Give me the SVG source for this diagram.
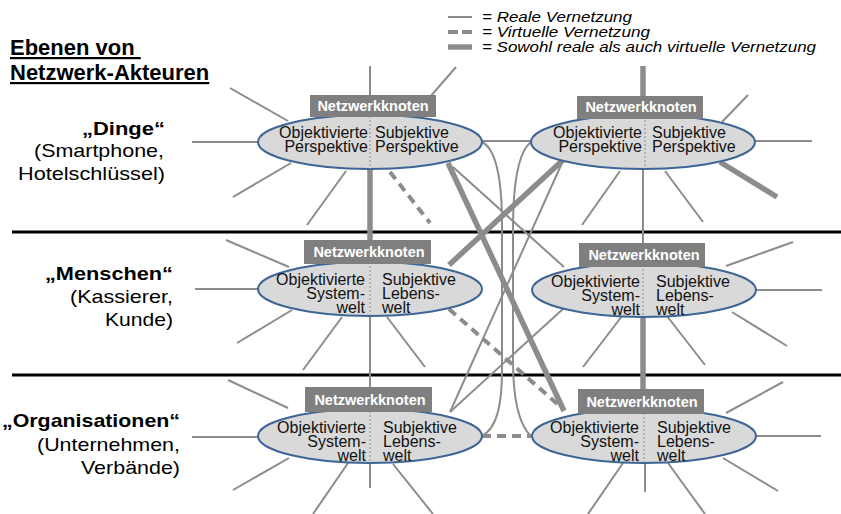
<svg xmlns="http://www.w3.org/2000/svg" width="841" height="514" viewBox="0 0 841 514">
  <style>
    .bg { fill: #ffffff; }
    .sep { stroke: #000000; stroke-width: 3; }
    .real { stroke: #8c8c8c; stroke-width: 2; fill: none; }
    .both { stroke: #8c8c8c; stroke-width: 5.5; fill: none; }
    .virt { stroke: #8c8c8c; stroke-width: 4; fill: none; stroke-dasharray: 9 6; }
    .ell { fill: #d9d9d9; stroke: #3d6596; stroke-width: 2; }
    .div { stroke: #8c8c8c; stroke-width: 1; stroke-dasharray: 2 2; }
    .box { fill: #7f7f7f; }
    .boxt { font-family: "Liberation Sans", Arial, sans-serif; font-weight: bold; font-size: 14.5px; fill: #ffffff; text-anchor: middle; }
    .t { font-family: "Liberation Sans", Arial, sans-serif; font-size: 16px; fill: #111111; }
    .l { text-anchor: end; }
    .lab { font-family: "Liberation Sans", Arial, sans-serif; font-size: 19px; fill: #000000; text-anchor: end; }
    .labb { font-weight: bold; }
    .leg { font-family: "Liberation Sans", Arial, sans-serif; font-size: 15.5px; font-style: italic; fill: #000000; }
    .title { font-family: "Liberation Sans", Arial, sans-serif; font-size: 22px; font-weight: bold; fill: #000000; text-decoration: underline; }
  </style>

  <rect class="bg" x="0" y="0" width="841" height="514"/>

  <!-- heading -->
  <g id="title">
    <text class="title" x="10" y="55" xml:space="preserve">Ebenen von </text>
    <text class="title" x="10" y="80">Netzwerk-Akteuren</text>
  </g>

  <!-- legend -->
  <g id="legend">
    <line class="real" x1="448" y1="17" x2="472" y2="17"/>
    <line class="virt" x1="448" y1="32" x2="472" y2="32" style="stroke-dasharray: 10 4"/>
    <line class="both" x1="448" y1="47" x2="472" y2="47"/>
    <text class="leg" x="482" y="22" textLength="150" lengthAdjust="spacingAndGlyphs">= Reale Vernetzung</text>
    <text class="leg" x="482" y="37" textLength="168" lengthAdjust="spacingAndGlyphs">= Virtuelle Vernetzung</text>
    <text class="leg" x="482" y="52" textLength="334" lengthAdjust="spacingAndGlyphs">= Sowohl reale als auch virtuelle Vernetzung</text>
  </g>

  <!-- level labels -->
  <g id="levels">
    <text class="lab labb" x="165" y="135" textLength="83" lengthAdjust="spacingAndGlyphs">„Dinge“</text>
    <text class="lab" x="164" y="157" textLength="130" lengthAdjust="spacingAndGlyphs">(Smartphone,</text>
    <text class="lab" x="165" y="180" textLength="147" lengthAdjust="spacingAndGlyphs">Hotelschlüssel)</text>
    <text class="lab labb" x="173" y="280" textLength="128" lengthAdjust="spacingAndGlyphs">„Menschen“</text>
    <text class="lab" x="173" y="303" textLength="103" lengthAdjust="spacingAndGlyphs">(Kassierer,</text>
    <text class="lab" x="173" y="326" textLength="68" lengthAdjust="spacingAndGlyphs">Kunde)</text>
    <text class="lab labb" x="180" y="427" textLength="178" lengthAdjust="spacingAndGlyphs">„Organisationen“</text>
    <text class="lab" x="180" y="451" textLength="143" lengthAdjust="spacingAndGlyphs">(Unternehmen,</text>
    <text class="lab" x="180" y="474" textLength="99" lengthAdjust="spacingAndGlyphs">Verbände)</text>
  </g>

  <!-- level separators -->
  <g id="separators">
    <line class="sep" x1="12" y1="232" x2="841" y2="232"/>
    <line class="sep" x1="12" y1="375" x2="841" y2="375"/>
  </g>

  <!-- connectors and open spokes -->
  <g id="connectors">
    <!-- node A spokes -->
    <line class="real" x1="370" y1="66" x2="370" y2="96"/>
    <line class="real" x1="456" y1="67" x2="430" y2="97"/>
    <line class="real" x1="230" y1="88" x2="288" y2="121"/>
    <line class="real" x1="192" y1="142" x2="258" y2="142"/>
    <line class="real" x1="233" y1="197" x2="291" y2="163"/>
    <line class="real" x1="307" y1="225" x2="346" y2="171"/>
    <line class="virt" x1="390" y1="172" x2="430" y2="223"/>
    <!-- node B spokes -->
    <line class="both" x1="643" y1="66" x2="643" y2="97"/>
    <line class="real" x1="748" y1="95" x2="722" y2="122"/>
    <line class="real" x1="755" y1="141" x2="812" y2="141"/>
    <line class="both" x1="720" y1="162" x2="777" y2="197"/>
    <line class="real" x1="665" y1="171" x2="703" y2="222"/>
    <line class="real" x1="582" y1="225" x2="620" y2="171"/>
    <!-- node C spokes -->
    <line class="real" x1="226" y1="240" x2="289" y2="267"/>
    <line class="real" x1="195" y1="289" x2="258" y2="289"/>
    <line class="real" x1="237" y1="343" x2="292" y2="310"/>
    <line class="real" x1="303" y1="370" x2="342" y2="317"/>
    <line class="real" x1="387" y1="317" x2="425" y2="367"/>
    <!-- node D spokes -->
    <line class="real" x1="726" y1="266" x2="793" y2="242"/>
    <line class="real" x1="756" y1="290" x2="822" y2="290"/>
    <line class="real" x1="732" y1="312" x2="787" y2="346"/>
    <line class="real" x1="667" y1="316" x2="705" y2="365"/>
    <line class="real" x1="583" y1="367" x2="622" y2="316"/>
    <!-- node E spokes -->
    <line class="real" x1="228" y1="380" x2="288" y2="408"/>
    <line class="real" x1="192" y1="437" x2="258" y2="437"/>
    <line class="real" x1="233" y1="490" x2="289" y2="458"/>
    <line class="real" x1="313" y1="514" x2="348" y2="463"/>
    <line class="real" x1="370" y1="463" x2="370" y2="488"/>
    <line class="real" x1="393" y1="464" x2="433" y2="514"/>
    <!-- node F spokes -->
    <line class="real" x1="726" y1="413" x2="783" y2="382"/>
    <line class="real" x1="755" y1="436" x2="821" y2="436"/>
    <line class="real" x1="723" y1="458" x2="778" y2="491"/>
    <line class="real" x1="668" y1="463" x2="705" y2="514"/>
    <line class="real" x1="645" y1="463" x2="645" y2="492"/>
    <line class="real" x1="623" y1="463" x2="588" y2="514"/>

    <!-- links between nodes -->
    <line class="real" x1="481" y1="141" x2="532" y2="141"/>
    <line class="both" x1="370" y1="168" x2="370" y2="241"/>
    <line class="real" x1="643" y1="168" x2="643" y2="244"/>
    <line class="real" x1="370" y1="316" x2="370" y2="388"/>
    <line class="both" x1="643" y1="316" x2="643" y2="390"/>
    <path class="real" d="M482,142 C498,150 502,185 502,225 L502,370 C502,405 497,428 482,436"/>
    <path class="real" d="M531,142 C518,152 513,185 513,230 L513,360 C513,400 519,425 531,436"/>
    <line class="both" x1="448" y1="163" x2="564" y2="411"/>
    <line class="both" x1="563" y1="160" x2="449" y2="265"/>
    <line class="real" x1="453" y1="167" x2="564" y2="267"/>
    <line class="real" x1="450" y1="412" x2="562" y2="163"/>
    <line class="real" x1="450" y1="412" x2="564" y2="308"/>
    <line class="virt" x1="449" y1="309" x2="562" y2="408"/>
    <line class="virt" x1="482" y1="436" x2="531" y2="436"/>
  </g>

  <!-- node A -->
  <g id="node-dinge-links">
    <ellipse class="ell" cx="370" cy="142" rx="112" ry="27"/>
    <line class="div" x1="370" y1="116" x2="370" y2="169"/>
    <rect class="box" x="310" y="95" width="126" height="22"/>
    <text class="boxt" x="373" y="111">Netzwerkknoten</text>
    <text class="t l" x="368" y="138">Objektivierte</text>
    <text class="t l" x="368" y="152">Perspektive</text>
    <text class="t" x="375" y="138">Subjektive</text>
    <text class="t" x="375" y="152">Perspektive</text>
  </g>

  <!-- node B -->
  <g id="node-dinge-rechts">
    <ellipse class="ell" cx="643" cy="142" rx="112" ry="27"/>
    <line class="div" x1="645" y1="116" x2="645" y2="169"/>
    <rect class="box" x="577" y="96" width="126" height="23"/>
    <text class="boxt" x="641" y="112">Netzwerkknoten</text>
    <text class="t l" x="642" y="138">Objektivierte</text>
    <text class="t l" x="642" y="152">Perspektive</text>
    <text class="t" x="652" y="138">Subjektive</text>
    <text class="t" x="652" y="152">Perspektive</text>
  </g>

  <!-- node C -->
  <g id="node-menschen-links">
    <ellipse class="ell" cx="370" cy="289" rx="112" ry="27"/>
    <line class="div" x1="370" y1="262" x2="370" y2="316"/>
    <rect class="box" x="304" y="240" width="127" height="24"/>
    <text class="boxt" x="369" y="257">Netzwerkknoten</text>
    <text class="t l" x="365" y="285">Objektivierte</text>
    <text class="t l" x="365" y="299">System-</text>
    <text class="t l" x="365" y="313">welt</text>
    <text class="t" x="382" y="285">Subjektive</text>
    <text class="t" x="382" y="299">Lebens-</text>
    <text class="t" x="382" y="313">welt</text>
  </g>

  <!-- node D -->
  <g id="node-menschen-rechts">
    <ellipse class="ell" cx="644" cy="290" rx="112" ry="27"/>
    <line class="div" x1="643" y1="265" x2="643" y2="317"/>
    <rect class="box" x="579" y="243" width="126" height="24"/>
    <text class="boxt" x="644" y="260">Netzwerkknoten</text>
    <text class="t l" x="640" y="287">Objektivierte</text>
    <text class="t l" x="640" y="301">System-</text>
    <text class="t l" x="640" y="315">welt</text>
    <text class="t" x="656" y="287">Subjektive</text>
    <text class="t" x="656" y="301">Lebens-</text>
    <text class="t" x="656" y="315">welt</text>
  </g>

  <!-- node E -->
  <g id="node-organisationen-links">
    <ellipse class="ell" cx="370" cy="436" rx="112" ry="27"/>
    <line class="div" x1="370" y1="411" x2="370" y2="463"/>
    <rect class="box" x="305" y="387" width="127" height="25"/>
    <text class="boxt" x="370" y="405">Netzwerkknoten</text>
    <text class="t l" x="366" y="433">Objektivierte</text>
    <text class="t l" x="366" y="447">System-</text>
    <text class="t l" x="366" y="461">welt</text>
    <text class="t" x="383" y="433">Subjektive</text>
    <text class="t" x="383" y="447">Lebens-</text>
    <text class="t" x="383" y="461">welt</text>
  </g>

  <!-- node F -->
  <g id="node-organisationen-rechts">
    <ellipse class="ell" cx="644" cy="436" rx="112" ry="27"/>
    <line class="div" x1="644" y1="413" x2="644" y2="463"/>
    <rect class="box" x="578" y="389" width="126" height="25"/>
    <text class="boxt" x="642" y="407">Netzwerkknoten</text>
    <text class="t l" x="639" y="433">Objektivierte</text>
    <text class="t l" x="639" y="447">System-</text>
    <text class="t l" x="639" y="461">welt</text>
    <text class="t" x="657" y="433">Subjektive</text>
    <text class="t" x="657" y="447">Lebens-</text>
    <text class="t" x="657" y="461">welt</text>
  </g>
</svg>
